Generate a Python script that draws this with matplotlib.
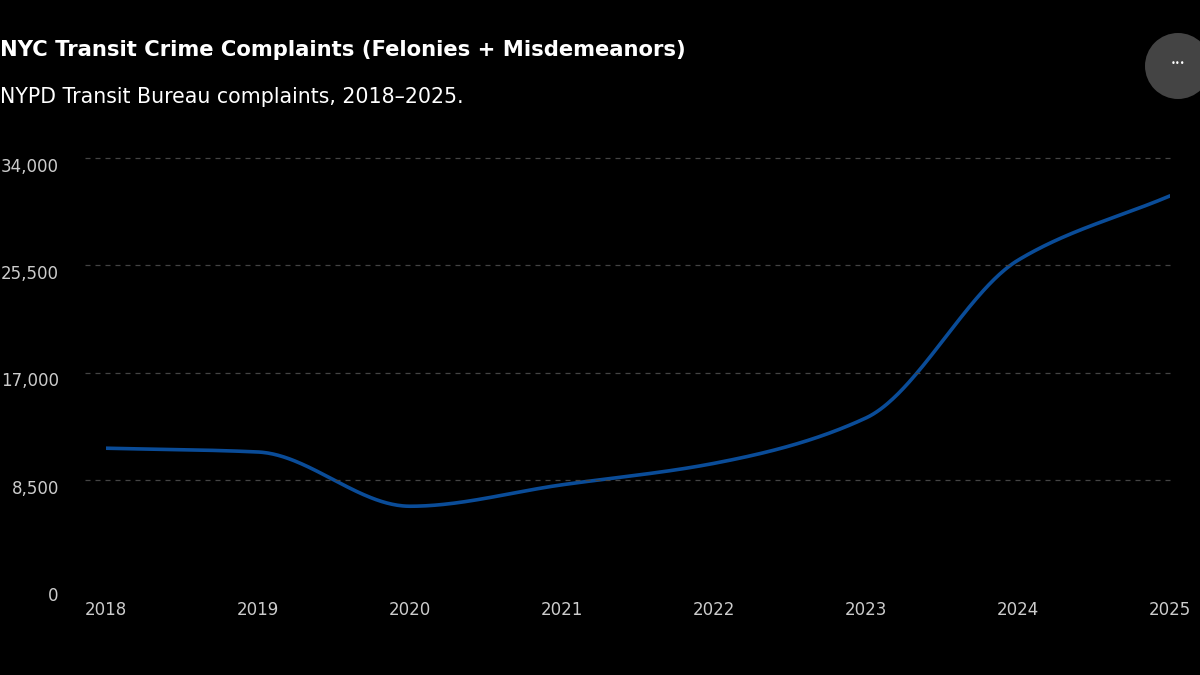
import numpy as np
import matplotlib
matplotlib.use("Agg")
import matplotlib.pyplot as plt
from matplotlib.patches import Ellipse

years = [2018, 2019, 2020, 2021, 2022, 2023, 2024, 2025]
complaints = [11000, 10700, 6400, 8100, 9800, 13400, 25900, 31000]
yticks = [0, 8500, 17000, 25500, 34000]
ytick_labels = ["0", "8,500", "17,000", "25,500", "34,000"]

def monotone(x, y, n=600):
    x = np.asarray(x, float); y = np.asarray(y, float)
    h = np.diff(x); d = np.diff(y) / h
    m = np.zeros_like(y)
    m[0], m[-1] = d[0], d[-1]
    for i in range(1, len(y) - 1):
        if d[i-1] * d[i] <= 0:
            m[i] = 0
        else:
            w1 = 2*h[i] + h[i-1]; w2 = h[i] + 2*h[i-1]
            m[i] = (w1 + w2) / (w1/d[i-1] + w2/d[i])
    xs = np.linspace(x[0], x[-1], n); ys = np.empty_like(xs)
    for j, xv in enumerate(xs):
        i = min(np.searchsorted(x, xv, side="right") - 1, len(x) - 2)
        t = (xv - x[i]) / h[i]
        h00 = 2*t**3 - 3*t**2 + 1; h10 = t**3 - 2*t**2 + t
        h01 = -2*t**3 + 3*t**2; h11 = t**3 - t**2
        ys[j] = h00*y[i] + h10*h[i]*m[i] + h01*y[i+1] + h11*h[i]*m[i+1]
    return xs, ys

fig = plt.figure(figsize=(12, 6.75), dpi=100, facecolor="black")
ax = fig.add_axes([106/1200, 1-587/675, (1170-106)/1200, (587-158)/675])
ax.set_facecolor("black")
xs, ys = monotone(years, complaints)
ax.plot(xs, ys, color="#0a4c98", lw=2.6, solid_capstyle="round")
ax.set_xlim(2018, 2025)
ax.set_ylim(0, 34000)
ax.set_xticks(years)
ax.set_xticklabels([str(y) for y in years])
ax.set_yticks(yticks)
ax.set_yticklabels(ytick_labels, va="top")
for v in yticks[1:]:
    ax.axhline(v, color="#444444", lw=0.9, ls=(0, (4, 4)), xmin=-0.02, clip_on=False)
for s in ax.spines.values():
    s.set_visible(False)
ax.tick_params(colors="#cccccc", labelsize=12, length=0, pad=10)
ax.tick_params(axis="y", pad=34)
for lbl in ax.get_yticklabels():
    lbl.set_y(lbl.get_position()[1])
fig.text(0.0, 1-50/675, "NYC Transit Crime Complaints (Felonies + Misdemeanors)",
         color="white", fontsize=15.2, fontweight="bold", va="center", ha="left")
fig.text(0.0, 1-97/675, "NYPD Transit Bureau complaints, 2018\u20132025.",
         color="white", fontsize=14.8, va="center", ha="left")
fig.patches.append(Ellipse((1178/1200, 1-66/675), 66/1200, 66/675, transform=fig.transFigure,
                          facecolor="#444444", edgecolor="none"))
fig.text(1178/1200, 1-64/675, "\u2022\u2022\u2022", color="white", fontsize=6,
         ha="center", va="center")
fig.savefig("out.png", dpi=100, facecolor="black")
